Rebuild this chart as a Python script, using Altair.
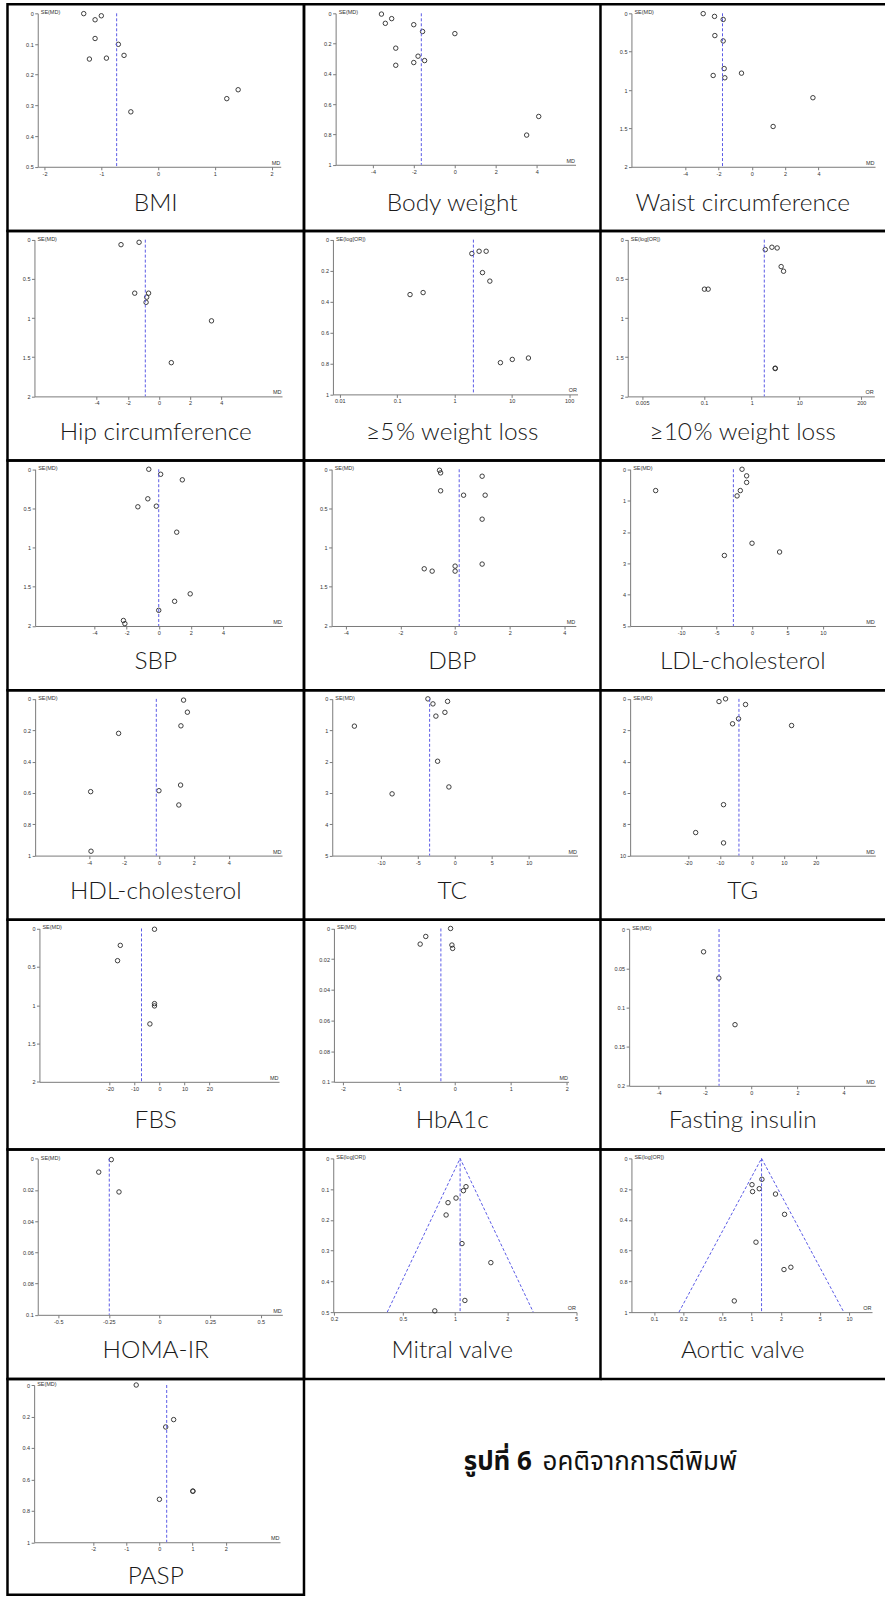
import altair as alt
import pandas as pd

# ---------------- data ----------------
BMI_EST = [-1.31, -1.00, -1.11, -1.11, -1.21, -0.91, -0.70, -0.60, -0.48, 1.21, 1.41]
BMI_SE = [0.001, 0.008, 0.021, 0.082, 0.149, 0.146, 0.101, 0.137, 0.321, 0.278, 0.249]
BMI_POOLED = -0.73

BW_EST = [-3.59, -3.40, -3.09, -2.01, -1.58, -2.89, -2.89, -2.01, -1.80, -1.48, 0.00, 4.10, 3.51]
BW_SE = [0.005, 0.066, 0.035, 0.075, 0.12, 0.23, 0.343, 0.325, 0.283, 0.312, 0.134, 0.681, 0.804]
BW_POOLED = -1.64

WC_EST = [-2.92, -2.24, -1.72, -2.22, -1.72, -1.66, -1.62, -2.32, -0.62, 3.67, 1.28]
WC_SE = [0.004, 0.04, 0.08, 0.29, 0.36, 0.72, 0.84, 0.81, 0.78, 1.10, 1.475]
WC_POOLED = -1.76

HC_EST = [-2.44, -1.28, -1.56, -0.67, -0.79, -0.83, 3.37, 0.79]
HC_SE = [0.064, 0.034, 0.683, 0.683, 0.734, 0.80, 1.036, 1.57]
HC_POOLED = -0.88

WL5_OR = [0.168, 0.284, 2.01, 2.69, 3.57, 3.08, 4.14, 6.33, 10.2, 19.5]
WL5_SE = [0.355, 0.342, 0.090, 0.075, 0.075, 0.213, 0.268, 0.795, 0.774, 0.765]
WL5_POOLED = 2.14

WL10_OR = [1.93, 2.66, 3.43, 4.16, 4.67, 0.102, 0.122, 3.12, 3.12]
WL10_SE = [0.127, 0.097, 0.106, 0.344, 0.403, 0.632, 0.632, 1.64, 1.645]
WL10_POOLED = 1.84

SBP_EST = [-0.62, 0.12, 1.47, -0.68, -1.30, -0.15, 1.12, 1.96, 0.99, 0.0, -2.20, -2.11]
SBP_SE = [0.0, 0.064, 0.135, 0.377, 0.479, 0.471, 0.803, 1.59, 1.685, 1.80, 1.93, 1.97]
SBP_POOLED = 0.0

DBP_EST = [-0.57, -0.53, -0.53, -1.13, -0.84, 0.99, 0.31, 1.10, 0.99, 0.99, 0.0, 0.0]
DBP_SE = [0.013, 0.046, 0.275, 1.27, 1.30, 0.089, 0.331, 0.331, 0.637, 1.21, 1.236, 1.30]
DBP_POOLED = 0.15

LDL_EST = [-1.41, -0.76, -0.76, -1.65, -2.11, -13.6, 0.0, 3.89, -3.9]
LDL_SE = [0.0, 0.21, 0.42, 0.68, 0.85, 0.68, 2.36, 2.64, 2.75]
LDL_POOLED = -2.63

HDL_EST = [1.41, 1.63, 1.26, -2.31, 1.24, 0.0, -3.91, 1.14, -3.89]
HDL_SE = [0.008, 0.085, 0.172, 0.22, 0.55, 0.586, 0.592, 0.677, 0.972]
HDL_POOLED = -0.15

TC_EST = [-13.6, -8.5, -3.65, -2.97, -2.57, -2.34, -0.99, -1.35, -0.81]
TC_SE = [0.87, 3.03, 0.0, 0.16, 0.55, 1.99, 0.08, 0.43, 2.81]
TC_POOLED = -3.42

TG_EST = [-10.3, -8.25, -2.0, -4.19, -6.06, 12.4, -8.88, -17.6, -8.88]
TG_SE = [0.17, 0.0, 0.36, 1.27, 1.59, 1.70, 6.75, 8.53, 9.19]
TG_POOLED = -4.06

FBS_EST = [-2.0, -15.7, -16.8, -2.0, -2.0, -3.84]
FBS_SE = [0.01, 0.22, 0.42, 0.98, 1.01, 1.245]
FBS_POOLED = -7.2

HBA_EST = [-0.62, -0.52, -0.077, -0.053, -0.04]
HBA_SE = [0.0102, 0.0052, 0.0, 0.0108, 0.013]
HBA_POOLED = -0.25

FI_EST = [-2.06, -1.40, -0.70]
FI_SE = [0.029, 0.0625, 0.122]
FI_POOLED = -1.39

HOMA_EST = [-0.238, -0.30, -0.20]
HOMA_SE = [0.0006, 0.0086, 0.0213]
HOMA_POOLED = -0.248

MV_OR = [1.157, 1.118, 1.013, 0.911, 0.888, 1.097, 1.61, 1.14, 0.764]
MV_SE = [0.092, 0.105, 0.129, 0.144, 0.184, 0.277, 0.339, 0.462, 0.496]
MV_POOLED = 1.07
MV_FUNNEL = [0.406, 2.83]

AV_OR = [1.277, 1.01, 1.024, 1.20, 1.76, 2.18, 1.11, 2.53, 2.15, 0.665]
AV_SE = [0.136, 0.171, 0.216, 0.197, 0.232, 0.364, 0.545, 0.708, 0.723, 0.927]
AV_POOLED = 1.266
AV_FUNNEL = [0.18, 8.83]

PASP_EST = [-0.70, 0.43, 0.19, 0.0, 1.01, 1.01]
PASP_SE = [0.0, 0.22, 0.267, 0.727, 0.675, 0.675]
PASP_POOLED = 0.22

CAPTION_BOLD = "รูปที่ 6"
CAPTION_TEXT = "อคติจากการตีพิมพ์"

MD_T = "SE(MD)"
OR_T = "SE(log[OR])"

PANELS = [
    dict(title="BMI", est=BMI_EST, se=BMI_SE, pooled=BMI_POOLED, log=False, xdom=[-2.12, 2.16],
         xticks=[-2, -1, 0, 1, 2], ymax=0.5, yticks=[0, 0.1, 0.2, 0.3, 0.4, 0.5], xl="MD", yl=MD_T),
    dict(title="Body weight", est=BW_EST, se=BW_SE, pooled=BW_POOLED, log=False, xdom=[-5.83, 5.9],
         xticks=[-4, -2, 0, 2, 4], ymax=1, yticks=[0, 0.2, 0.4, 0.6, 0.8, 1], xl="MD", yl=MD_T),
    dict(title="Waist circumference", est=WC_EST, se=WC_SE, pooled=WC_POOLED, log=False, xdom=[-7.23, 7.4],
         xticks=[-4, -2, 0, 2, 4], ymax=2, yticks=[0, 0.5, 1, 1.5, 2], xl="MD", yl=MD_T),
    dict(title="Hip circumference", est=HC_EST, se=HC_SE, pooled=HC_POOLED, log=False, xdom=[-8.0, 7.9],
         xticks=[-4, -2, 0, 2, 4], ymax=2, yticks=[0, 0.5, 1, 1.5, 2], xl="MD", yl=MD_T),
    dict(title="≥5\u200a% weight loss", est=WL5_OR, se=WL5_SE, pooled=WL5_POOLED, log=True, xdom=[0.0076, 140],
         xticks=[0.01, 0.1, 1, 10, 100], ymax=1, yticks=[0, 0.2, 0.4, 0.6, 0.8, 1], xl="OR", yl=OR_T),
    dict(title="≥10\u200a% weight loss", est=WL10_OR, se=WL10_SE, pooled=WL10_POOLED, log=True, xdom=[0.0025, 376],
         xticks=[0.005, 0.1, 1, 10, 200], ymax=2, yticks=[0, 0.5, 1, 1.5, 2], xl="OR", yl=OR_T),
    dict(title="SBP", est=SBP_EST, se=SBP_SE, pooled=SBP_POOLED, log=False, xdom=[-7.7, 7.7],
         xticks=[-4, -2, 0, 2, 4], ymax=2, yticks=[0, 0.5, 1, 1.5, 2], xl="MD", yl=MD_T),
    dict(title="DBP", est=DBP_EST, se=DBP_SE, pooled=DBP_POOLED, log=False, xdom=[-4.52, 4.42],
         xticks=[-4, -2, 0, 2, 4], ymax=2, yticks=[0, 0.5, 1, 1.5, 2], xl="MD", yl=MD_T),
    dict(title="LDL-cholesterol", est=LDL_EST, se=LDL_SE, pooled=LDL_POOLED, log=False, xdom=[-17.2, 17.4],
         xticks=[-10, -5, 0, 5, 10], ymax=5, yticks=[0, 1, 2, 3, 4, 5], xl="MD", yl=MD_T),
    dict(title="HDL-cholesterol", est=HDL_EST, se=HDL_SE, pooled=HDL_POOLED, log=False, xdom=[-7.09, 7.05],
         xticks=[-4, -2, 0, 2, 4], ymax=1, yticks=[0, 0.2, 0.4, 0.6, 0.8, 1], xl="MD", yl=MD_T),
    dict(title="TC", est=TC_EST, se=TC_SE, pooled=TC_POOLED, log=False, xdom=[-16.6, 16.6],
         xticks=[-10, -5, 0, 5, 10], ymax=5, yticks=[0, 1, 2, 3, 4, 5], xl="MD", yl=MD_T),
    dict(title="TG", est=TG_EST, se=TG_SE, pooled=TG_POOLED, log=False, xdom=[-38.1, 38.6],
         xticks=[-20, -10, 0, 10, 20], ymax=10, yticks=[0, 2, 4, 6, 8, 10], xl="MD", yl=MD_T),
    dict(title="FBS", est=FBS_EST, se=FBS_SE, pooled=FBS_POOLED, log=False, xdom=[-48.1, 47.9],
         xticks=[-20, -10, 0, 10, 20], ymax=2, yticks=[0, 0.5, 1, 1.5, 2], xl="MD", yl=MD_T),
    dict(title="HbA1c", est=HBA_EST, se=HBA_SE, pooled=HBA_POOLED, log=False, xdom=[-2.16, 2.03],
         xticks=[-2, -1, 0, 1, 2], ymax=0.1, yticks=[0, 0.02, 0.04, 0.06, 0.08, 0.1], xl="MD", yl=MD_T),
    dict(title="Fasting insulin", est=FI_EST, se=FI_SE, pooled=FI_POOLED, log=False, xdom=[-5.28, 5.37],
         xticks=[-4, -2, 0, 2, 4], ymax=0.2, yticks=[0, 0.05, 0.1, 0.15, 0.2], xl="MD", yl=MD_T),
    dict(title="HOMA-IR", est=HOMA_EST, se=HOMA_SE, pooled=HOMA_POOLED, log=False, xdom=[-0.601, 0.606],
         xticks=[-0.5, -0.25, 0, 0.25, 0.5], ymax=0.1, yticks=[0, 0.02, 0.04, 0.06, 0.08, 0.1], xl="MD", yl=MD_T),
    dict(title="Mitral valve", est=MV_OR, se=MV_SE, pooled=MV_POOLED, log=True, xdom=[0.198, 5.03],
         xticks=[0.2, 0.5, 1, 2, 5], ymax=0.5, yticks=[0, 0.1, 0.2, 0.3, 0.4, 0.5], xl="OR", yl=OR_T,
         funnel=MV_FUNNEL),
    dict(title="Aortic valve", est=AV_OR, se=AV_SE, pooled=AV_POOLED, log=True, xdom=[0.0586, 17.2],
         xticks=[0.1, 0.2, 0.5, 1, 2, 5, 10], ymax=1, yticks=[0, 0.2, 0.4, 0.6, 0.8, 1], xl="OR", yl=OR_T,
         funnel=AV_FUNNEL),
    dict(title="PASP", est=PASP_EST, se=PASP_SE, pooled=PASP_POOLED, log=False, xdom=[-3.78, 3.64],
         xticks=[-2, -1, 0, 1, 2], ymax=1, yticks=[0, 0.2, 0.4, 0.6, 0.8, 1], xl="MD", yl=MD_T),
]

# ---------------- layout (pixels inside each table cell) ----------------
COL_W = [297, 297, 285]
ROW_H = [227, 230, 230, 230, 230, 230, 216]
GEOM = [
    (30.3, 273.7, 9, 162.7), (31.7, 272, 9, 160.7), (31, 275, 9, 162.7),
    (27, 275, 8.7, 165.7), (29, 274, 8.7, 163.7), (27.3, 274.3, 8.7, 165.7),
    (27.7, 275.3, 8.7, 165.7), (27.7, 272.3, 8.7, 165.7), (29.7, 275.3, 8.7, 165.7),
    (27.7, 275, 8.7, 165.7), (28.3, 274, 8.7, 165.7), (29.7, 275.3, 8.7, 165.7),
    (32, 272, 8.7, 162.3), (30, 265, 8.7, 162.3), (28.7, 275.3, 9.3, 166.3),
    (30.3, 275.3, 9.3, 165.7), (29.3, 273, 9, 163), (31, 272, 9, 163),
    (26.7, 273, 6, 163.5),
]
BORDER = 2.5
DASH_COLOR = "#5a5ae6"
TICK_FONT = "Liberation Sans"
TITLE_FONT = "Lato"
THAI_FONT = "Noto Sans Thai, Noto Sans Thai UI, Noto Sans, DejaVu Sans, sans-serif"


def make_cell(p, geom, w, h, last_col, title_y, caption=False):
    x0, x1, y0, y1 = geom
    if p["log"]:
        xs = alt.Scale(type="log", domain=p["xdom"], range=[x0, x1], nice=False)
    else:
        xs = alt.Scale(domain=p["xdom"], range=[x0, x1], nice=False, zero=False)
    ys = alt.Scale(domain=[0, p["ymax"]], range=[y0, y1], nice=False, zero=False)
    common = dict(domainColor="#7a7a7a", domainWidth=1, tickColor="#7a7a7a", tickWidth=1,
                  tickSize=3, labelFont=TICK_FONT, labelFontSize=5.5, labelColor="#333",
                  labelExpr="'' + datum.value", labelOverlap=False, labelFlush=False,
                  grid=False, titleFont=TICK_FONT, titleFontSize=5.5, titleFontWeight="normal",
                  titleColor="#333", titleAngle=0, titleBaseline="alphabetic")
    xaxis = alt.Axis(values=p["xticks"], offset=-(h - y1), title=p["xl"], titleX=x1 - 1,
                     titleY=-2.5, titleAlign="right", labelPadding=1.5, **common)
    yaxis = alt.Axis(values=p["yticks"], offset=-x0, title=p["yl"], titleX=2.5, titleY=y0 + 0.5,
                     titleAlign="left", labelPadding=1.5, **common)

    pts = pd.DataFrame({"est": p["est"], "se": p["se"]})
    points = alt.Chart(pts).mark_point(shape="circle", filled=False, size=20, strokeWidth=0.9,
                                       color="#2a2a2a", opacity=1).encode(
        x=alt.X("est:Q", scale=xs, axis=xaxis),
        y=alt.Y("se:Q", scale=ys, axis=yaxis),
    )
    pooled = pd.DataFrame({"est": [p["pooled"]], "se": [0.0], "se2": [p["ymax"]]})
    vline = alt.Chart(pooled).mark_rule(color=DASH_COLOR, strokeDash=[3, 2], strokeWidth=1).encode(
        x=alt.X("est:Q", scale=xs),
        y=alt.Y("se:Q", scale=ys),
        y2="se2:Q",
    )
    layers = [points, vline]
    if p.get("funnel"):
        fdf = pd.DataFrame({"est": [p["funnel"][0], p["pooled"], p["funnel"][1]],
                            "se": [p["ymax"], 0.0, p["ymax"]], "i": [0, 1, 2]})
        layers.append(alt.Chart(fdf).mark_line(color=DASH_COLOR, strokeDash=[3, 2], strokeWidth=1).encode(
            x=alt.X("est:Q", scale=xs),
            y=alt.Y("se:Q", scale=ys),
            order="i:Q",
        ))
    title = alt.Chart(pd.DataFrame({"name": [p["title"]]})).mark_text(
        font=TITLE_FONT, fontSize=24.5, fontWeight=300, color="#1a1a1a", align="center", baseline="middle"
    ).encode(text="name:N", x=alt.value(w / 2), y=alt.value(title_y))
    layers.append(title)
    if last_col:
        one = alt.Data(values=[{}])
        for yy in (0, h):
            layers.append(alt.Chart(one).mark_rule(color="black", strokeWidth=BORDER).encode(
                x=alt.value(0), x2=alt.value(w), y=alt.value(yy)))
    if caption:
        cap = pd.DataFrame({"bold": [CAPTION_BOLD], "text": [CAPTION_TEXT]})
        layers.append(alt.Chart(cap).mark_text(font=THAI_FONT, fontSize=26, fontWeight="bold", color="#111",
                                               align="left", baseline="middle").encode(
            text="bold:N", x=alt.value(w + 160), y=alt.value(83)))
        layers.append(alt.Chart(cap).mark_text(font=THAI_FONT, fontSize=26, color="#111",
                                               align="left", baseline="middle").encode(
            text="text:N", x=alt.value(w + 239), y=alt.value(83)))
    ch = alt.layer(*layers).properties(width=w, height=h)
    if last_col:
        ch = ch.properties(view=alt.ViewBackground(stroke="transparent"))
    return ch


cells = []
for idx, p in enumerate(PANELS):
    r, c = divmod(idx, 3)
    ty = 200 if r == 0 else (198 if r == 6 else 202)
    cells.append(make_cell(p, GEOM[idx], COL_W[c], ROW_H[r], c == 2, ty, caption=(idx == 18)))

chart = alt.concat(*cells, columns=3, spacing=0, bounds="flush").properties(
    padding={"left": 5.5, "top": 0, "right": 0, "bottom": 0}
).configure_view(stroke="black", strokeWidth=BORDER)

chart.save("out.html", embed_options={"renderer": "svg", "actions": False})
